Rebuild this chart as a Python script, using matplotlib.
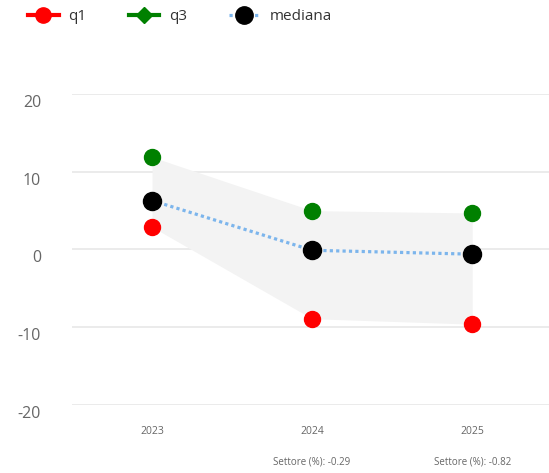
import numpy as np
import matplotlib.pyplot as plt
from matplotlib.lines import Line2D

plt.rcParams['font.family'] = ['Open Sans', 'DejaVu Sans']

years = ['2023', '2024', '2025']
q1 = [2.9, -8.9, -9.6]
q3 = [11.9, 5.0, 4.7]
mediana = [6.3, -0.1, -0.6]
settore = ['', 'Settore (%): -0.29', 'Settore (%): -0.82']
yticks = [-20, -10, 0, 10, 20]

fig = plt.figure(figsize=(5.49, 4.73), dpi=100)
ax = fig.add_axes([72 / 549, 68 / 473, 1 - 72 / 549, 311 / 473])

x = np.arange(len(years))

# band between q1 and q3
ax.fill_between(x, q1, q3, color='#f3f3f3', lw=0, zorder=1)

ax.plot(x, mediana, color='#7cb5ec', lw=2.3, linestyle=(0, (1, 1)),
        dash_capstyle='butt', zorder=2)
ax.plot(x, q3, linestyle='none', marker='o', ms=11.5, color='#008000', zorder=3)
ax.plot(x, q1, linestyle='none', marker='o', ms=11.5, color='#ff0000', zorder=3)
ax.plot(x, mediana, linestyle='none', marker='o', ms=13, color='black', zorder=4)

ax.set_xlim(-0.5, 2.48)
ax.set_ylim(-20, 20)
ax.set_yticks(yticks)
ax.set_yticklabels([])
ax.set_xticks([])
ax.tick_params(length=0)
ax.yaxis.grid(True, color='#e6e6e6', lw=1.1)
ax.set_axisbelow(True)
for s in ax.spines.values():
    s.set_visible(False)

# y labels sit a bit under their grid lines
for v in yticks:
    ax.annotate(str(v), xy=(0, v), xycoords=ax.get_yaxis_transform(),
                xytext=(-31, -9), textcoords='offset pixels',
                ha='right', va='center', fontsize=11.5, color='#666666')

for i, yr in enumerate(years):
    ax.annotate(yr, xy=(i, 0), xycoords=('data', 'axes fraction'),
                xytext=(0, -26), textcoords='offset pixels',
                ha='center', va='center', fontsize=7.5, color='#666666')
    if settore[i]:
        ax.annotate(settore[i], xy=(i, 0), xycoords=('data', 'axes fraction'),
                    xytext=(0, -57), textcoords='offset pixels',
                    ha='center', va='center', fontsize=7, color='#666666')

handles = [
    Line2D([], [], color='#ff0000', lw=3, marker='o', ms=11),
    Line2D([], [], color='#008000', lw=3, marker='D', ms=8),
    Line2D([], [], color='#7cb5ec', lw=2.3, linestyle=(0, (1, 1)),
           marker='o', ms=12.5, markerfacecolor='black', markeredgecolor='black'),
]
fig.legend(handles, ['q1', 'q3', 'mediana'], loc='upper left',
           bbox_to_anchor=(0.04, 0.993), ncol=3, frameon=False,
           fontsize=11, labelcolor='#333333', handlelength=2.0,
           columnspacing=2.75, handletextpad=0.65, borderaxespad=0.0)

fig.savefig('out.png', dpi=100)
